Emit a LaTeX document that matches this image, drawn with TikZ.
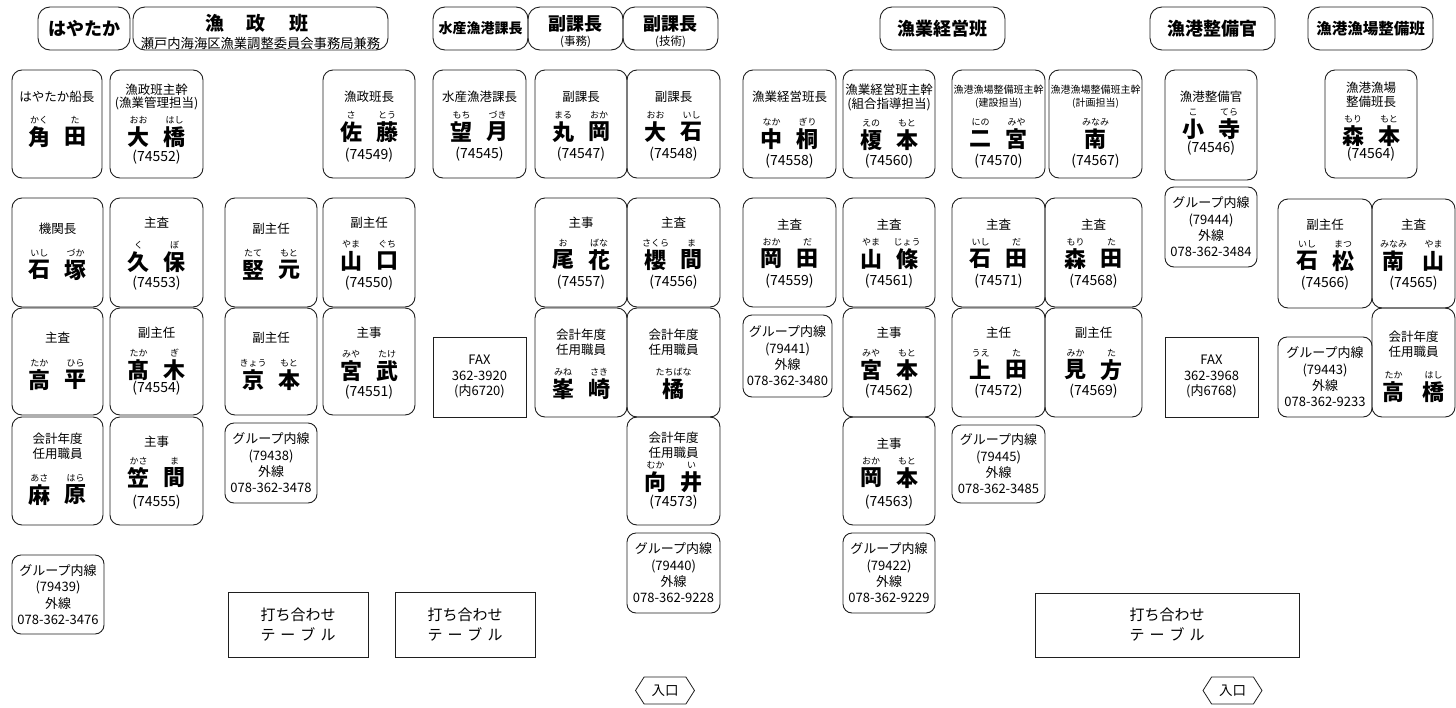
\documentclass[tikz,border=0pt]{standalone}
\usepackage{fontspec}
\setmainfont{Noto Sans CJK JP}
\usetikzlibrary{calc,shapes.symbols}
\tikzset{
  ln/.style={draw=black!88, line width=0.9pt},
  pbox/.style={ln, rounded corners=10pt, inner sep=0pt, outer sep=0pt, anchor=north west},
  gbox/.style={pbox, rounded corners=9pt},
  hbox/.style={pbox, rounded corners=12pt},
  sbox/.style={ln, line width=0.8pt, rounded corners=0pt, inner sep=0pt, outer sep=0pt, anchor=north west},
  ttl/.style={font=\fontsize{12.5}{15}\selectfont, align=center, inner sep=0pt},
  ttls/.style={font=\fontsize{10}{13}\selectfont, align=center, inner sep=0pt},
  rbf/.style={font=\fontsize{9}{9}\selectfont, inner sep=0pt},
  nmf/.style={font=\fontsize{22}{22}\selectfont\bfseries, inner sep=0pt},
  numf/.style={font=\fontsize{14}{14}\selectfont, inner sep=0pt},
  grpf/.style={font=\fontsize{13}{16.3}\selectfont, align=center, inner sep=0pt},
  hdf/.style={font=\fontsize{18}{18}\selectfont\bfseries, inner sep=0pt},
  hsub/.style={font=\fontsize{11.5}{12}\selectfont, inner sep=0pt},
  tblf/.style={font=\fontsize{15}{20}\selectfont, align=center, inner sep=0pt},
  entr/.style={ln, line width=0.8pt, signal, signal to=east and west, signal pointer angle=115,
    minimum width=59pt, minimum height=27pt, inner sep=0pt, font=\fontsize{13.5}{13.5}\selectfont},
}
% box: [style]{id}{x1}{y1}{x2}{y2}
\newcommand\pbx[6][pbox]{%
  \pgfmathsetmacro\bxw{#5-#3}\pgfmathsetmacro\bxh{#6-#4}%
  \node[#1, minimum width=\bxw pt, minimum height=\bxh pt] (#2) at (#3,#4) {};}
% title: [style]{id}{dy}{text}
\newcommand\ptl[4][ttl]{\node[#1] (#2-t) at ($(#2.north)+(0,#3)$) {#4};}
% name: [half spacing]{id}{dy}{ruby1}{char1}{ruby2}{char2}
\newcommand\pnm[7][18]{%
  \node[nmf] (#2-a) at ($(#2.north)+(-#1,#3)$) {#5};
  \node[nmf] (#2-b) at ($(#2.north)+(#1,#3)$) {#7};
  \node[rbf] (#2-ra) at ($(#2.north)+(-#1,#3-17)$) {#4};
  \node[rbf] (#2-rb) at ($(#2.north)+(#1,#3-17)$) {#6};}
\newcommand\pone[4]{%
  \node[nmf] (#1-a) at ($(#1.north)+(0,#2)$) {#4};
  \node[rbf] (#1-ra) at ($(#1.north)+(0,#2-17)$) {#3};}
\newcommand\pnum[3]{\node[numf] (#1-n) at ($(#1.north)+(0,#2)$) {(#3)};}
\newcommand\pgrp[6]{\pbx[gbox]{#1}{#2}{#3}{#4}{#5}\node[grpf] (#1-x) at (#1.center) {#6};}
\newcommand\pfax[6]{\pbx[sbox]{#1}{#2}{#3}{#4}{#5}\node[grpf, font=\fontsize{13}{15.5}\selectfont] (#1-x) at (#1.center) {#6};}
\newcommand\ptbl[5]{\pbx[sbox]{#1}{#2}{#3}{#4}{#5}\node[tblf] (#1-x) at (#1.center) {打ち合わせ\\テ\hspace{5pt}ー\hspace{5pt}ブ\hspace{5pt}ル};}

\begin{document}
\begin{tikzpicture}[x=1pt,y=-1pt]
\fill[white] (0,0) rectangle (1456,707);
\useasboundingbox (0,0) rectangle (1456,707);

% ---------------- headers
\pbx[hbox]{hHaya}{38}{7}{130}{50}
\node[hdf] (hHaya-t) at (hHaya.center) {はやたか};
\pbx[hbox]{hGyosei}{133}{7}{388}{50}
\node[hdf, font=\fontsize{19}{19}\selectfont\bfseries] (hGyosei-t) at ($(hGyosei.north)+(-4,16)$) {漁\hspace{23pt}政\hspace{23pt}班};
\node[hsub, font=\fontsize{13.3}{14}\selectfont] (hGyosei-s) at ($(hGyosei.north)+(0,36)$) {瀬戸内海海区漁業調整委員会事務局兼務};
\pbx[hbox]{hKacho}{433}{7}{528}{50}
\node[hdf, font=\fontsize{14}{14}\selectfont\bfseries] (hKacho-t) at (hKacho.center) {水産漁港課長};
\pbx[hbox]{hFuku1}{528}{7}{623}{50}
\node[hdf] (hFuku1-t) at ($(hFuku1.north)+(0,17)$) {副課長};
\node[hsub] (hFuku1-s) at ($(hFuku1.north)+(0,35)$) {(事務)};
\pbx[hbox]{hFuku2}{623}{7}{718}{50}
\node[hdf] (hFuku2-t) at ($(hFuku2.north)+(0,17)$) {副課長};
\node[hsub] (hFuku2-s) at ($(hFuku2.north)+(0,35)$) {(技術)};
\pbx[hbox]{hKeiei}{880}{7}{1005}{50}
\node[hdf] (hKeiei-t) at (hKeiei.center) {漁業経営班};
\pbx[hbox]{hSeibi}{1150}{7}{1275}{50}
\node[hdf] (hSeibi-t) at (hSeibi.center) {漁港整備官};
\pbx[hbox]{hGyojo}{1308}{7}{1433}{50}
\node[hdf, font=\fontsize{15.5}{16}\selectfont\bfseries] (hGyojo-t) at (hGyojo.center) {漁港漁場整備班};

% ---------------- row 1
\pbx{kakuta}{12}{70}{102}{178}\ptl{kakuta}{27}{はやたか船長}\pnm{kakuta}{67}{かく}{角}{た}{田}
\pbx{ohashi}{110}{70}{203}{178}\ptl[ttl, font=\fontsize{12.5}{13.5}\selectfont]{ohashi}{27}{漁政班主幹\\(漁業管理担当)}\pnm{ohashi}{67}{おお}{大}{はし}{橋}\pnum{ohashi}{87}{74552}
\pbx{sato}{323}{70}{415}{178}\ptl{sato}{27}{漁政班長}\pnm{sato}{62}{さ}{佐}{とう}{藤}\pnum{sato}{85}{74549}
\pbx{mochizuki}{433}{70}{526}{178}\ptl{mochizuki}{27}{水産漁港課長}\pnm{mochizuki}{62}{もち}{望}{づき}{月}\pnum{mochizuki}{84}{74545}
\pbx{maruoka}{535}{70}{627}{178}\ptl{maruoka}{27}{副課長}\pnm{maruoka}{62}{まる}{丸}{おか}{岡}\pnum{maruoka}{84}{74547}
\pbx{oishi}{627}{70}{720}{178}\ptl{oishi}{27}{副課長}\pnm{oishi}{62}{おお}{大}{いし}{石}\pnum{oishi}{84}{74548}
\pbx{nakagiri}{743}{70}{836}{178}\ptl{nakagiri}{27}{漁業経営班長}\pnm{nakagiri}{69}{なか}{中}{ぎり}{桐}\pnum{nakagiri}{91}{74558}
\pbx{enomoto}{843}{70}{935}{178}\ptl[ttl, font=\fontsize{12.5}{14}\selectfont]{enomoto}{27}{漁業経営班主幹\\(組合指導担当)}\pnm{enomoto}{70}{えの}{榎}{もと}{本}\pnum{enomoto}{91}{74560}
\pbx{ninomiya}{952}{70}{1045}{178}\ptl[ttls]{ninomiya}{27}{漁港漁場整備班主幹\\(建設担当)}\pnm{ninomiya}{69}{にの}{二}{みや}{宮}\pnum{ninomiya}{91}{74570}
\pbx{minami}{1049}{70}{1142}{178}\ptl[ttls]{minami}{27}{漁港漁場整備班主幹\\(計画担当)}\pone{minami}{69}{みなみ}{南}\pnum{minami}{91}{74567}
\pbx{kodera}{1165}{70}{1257}{180}\ptl{kodera}{27}{漁港整備官}\pnm{kodera}{59}{こ}{小}{てら}{寺}\pnum{kodera}{78}{74546}
\pbx{morimoto}{1325}{70}{1417}{178}\ptl[ttl, font=\fontsize{12.5}{14}\selectfont]{morimoto}{25}{漁港漁場\\整備班長}\pnm{morimoto}{66}{もり}{森}{もと}{本}\pnum{morimoto}{84}{74564}

% ---------------- row 2
\pbx{ishizuka}{12}{198}{103}{307}\ptl{ishizuka}{31}{機関長}\pnm{ishizuka}{72}{いし}{石}{づか}{塚}
\pbx{kubo}{110}{198}{203}{307}\ptl{kubo}{25}{主査}\pnm{kubo}{64}{く}{久}{ぼ}{保}\pnum{kubo}{85}{74553}
\pbx{katamoto}{225}{198}{317}{307}\ptl{katamoto}{31}{副主任}\pnm{katamoto}{72}{たて}{竪}{もと}{元}
\pbx{yamaguchi}{323}{198}{415}{307}\ptl{yamaguchi}{25}{副主任}\pnm{yamaguchi}{63}{やま}{山}{ぐち}{口}\pnum{yamaguchi}{85}{74550}
\pbx{obana}{535}{198}{627}{307}\ptl{obana}{25}{主事}\pnm{obana}{62}{お}{尾}{ばな}{花}\pnum{obana}{84}{74557}
\pbx{sakurama}{627}{198}{720}{307}\ptl{sakurama}{25}{主査}\pnm{sakurama}{62}{さくら}{櫻}{ま}{間}\pnum{sakurama}{84}{74556}
\pbx{okada}{743}{198}{836}{307}\ptl{okada}{27}{主査}\pnm{okada}{61}{おか}{岡}{だ}{田}\pnum{okada}{83}{74559}
\pbx{yamajo}{843}{198}{935}{307}\ptl{yamajo}{27}{主査}\pnm{yamajo}{61}{やま}{山}{じょう}{條}\pnum{yamajo}{83}{74561}
\pbx{ishida}{952}{198}{1045}{307}\ptl{ishida}{27}{主査}\pnm{ishida}{61}{いし}{石}{だ}{田}\pnum{ishida}{83}{74571}
\pbx{morita}{1045}{198}{1142}{307}\ptl{morita}{27}{主査}\pnm{morita}{61}{もり}{森}{た}{田}\pnum{morita}{83}{74568}
\pgrp{g79444}{1165}{187}{1257}{267}{グループ内線\\(79444)\\外線\\078-362-3484}
\pbx{ishimatsu}{1278}{199}{1372}{308}\ptl{ishimatsu}{26}{副主任}\pnm{ishimatsu}{62}{いし}{石}{まつ}{松}\pnum{ishimatsu}{84}{74566}
\pbx{minamiyama}{1372}{199}{1455}{308}\ptl{minamiyama}{26}{主査}\pnm[20]{minamiyama}{62}{みなみ}{南}{やま}{山}\pnum{minamiyama}{84}{74565}

% ---------------- row 3
\pbx{takahira}{12}{308}{103}{415}\ptl{takahira}{30}{主査}\pnm{takahira}{72}{たか}{高}{ひら}{平}
\pbx{takagi}{110}{308}{203}{415}\ptl{takagi}{25}{副主任}\pnm{takagi}{62}{たか}{髙}{ぎ}{木}\pnum{takagi}{80}{74554}
\pbx{kyomoto}{225}{308}{317}{415}\ptl{kyomoto}{30}{副主任}\pnm{kyomoto}{72}{きょう}{京}{もと}{本}
\pbx{miyatake}{323}{308}{415}{415}\ptl{miyatake}{25}{主事}\pnm{miyatake}{63}{みや}{宮}{たけ}{武}\pnum{miyatake}{84}{74551}
\pfax{fax1}{433}{337}{526}{417}{FAX\\362-3920\\(内6720)}
\pbx{minezaki}{535}{308}{627}{417}\ptl{minezaki}{34}{会計年度\\任用職員}\pnm{minezaki}{81}{みね}{峯}{さき}{崎}
\pbx{tachibana}{627}{308}{720}{417}\ptl{tachibana}{34}{会計年度\\任用職員}\pone{tachibana}{81}{たちばな}{橘}
\pgrp{g79441}{743}{315}{832}{397}{グループ内線\\(79441)\\外線\\078-362-3480}
\pbx{miyamoto}{843}{308}{935}{417}\ptl{miyamoto}{25}{主事}\pnm{miyamoto}{62}{みや}{宮}{もと}{本}\pnum{miyamoto}{83}{74562}
\pbx{ueda}{952}{308}{1045}{417}\ptl{ueda}{25}{主任}\pnm{ueda}{62}{うえ}{上}{た}{田}\pnum{ueda}{83}{74572}
\pbx{mikata}{1045}{308}{1142}{417}\ptl{mikata}{25}{副主任}\pnm{mikata}{62}{みか}{見}{た}{方}\pnum{mikata}{83}{74569}
\pfax{fax2}{1165}{337}{1258}{417}{FAX\\362-3968\\(内6768)}
\pgrp{g79443}{1278}{337}{1372}{417}{グループ内線\\(79443)\\外線\\078-362-9233}
\pbx{takahashi}{1372}{308}{1455}{417}\ptl{takahashi}{36}{会計年度\\任用職員}\pnm[20]{takahashi}{84}{たか}{高}{はし}{橋}

% ---------------- row 4
\pbx{asahara}{12}{417}{103}{525}\ptl{asahara}{29}{会計年度\\任用職員}\pnm{asahara}{78}{あさ}{麻}{はら}{原}
\pbx{kasama}{110}{417}{203}{525}\ptl{kasama}{25}{主事}\pnm{kasama}{61}{かさ}{笠}{ま}{間}\pnum{kasama}{85}{74555}
\pgrp{g79438}{225}{423}{317}{503}{グループ内線\\(79438)\\外線\\078-362-3478}
\pbx{mukai}{627}{417}{720}{525}\ptl{mukai}{28}{会計年度\\任用職員}\pnm{mukai}{65}{むか}{向}{い}{井}\pnum{mukai}{85}{74573}
\pbx{okamoto}{843}{417}{935}{525}\ptl{okamoto}{27}{主事}\pnm{okamoto}{61}{おか}{岡}{もと}{本}\pnum{okamoto}{85}{74563}
\pgrp{g79445}{952}{425}{1045}{503}{グループ内線\\(79445)\\外線\\078-362-3485}

% ---------------- bottom
\pgrp{g79439}{12}{555}{104}{634}{グループ内線\\(79439)\\外線\\078-362-3476}
\pgrp{g79440}{627}{533}{720}{613}{グループ内線\\(79440)\\外線\\078-362-9228}
\pgrp{g79422}{843}{533}{935}{613}{グループ内線\\(79422)\\外線\\078-362-9229}
\ptbl{tbl1}{228}{592}{368}{657}
\ptbl{tbl2}{395}{592}{535}{657}
\ptbl{tbl3}{1035}{593}{1299}{657}
\node[entr] (ent1) at (665,690.5) {入口};
\node[entr] (ent2) at (1232.5,690.5) {入口};
\end{tikzpicture}
\end{document}
